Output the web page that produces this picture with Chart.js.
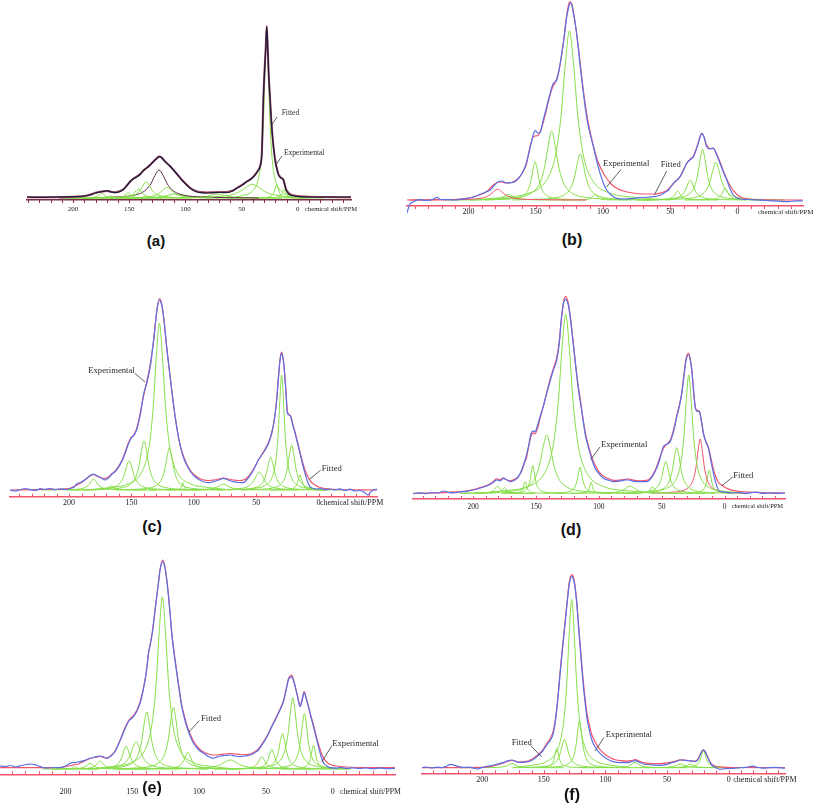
<!DOCTYPE html>
<html><head><meta charset="utf-8">
<script src="https://cdn.jsdelivr.net/npm/chart.js@4.4.1/dist/chart.umd.min.js"></script>
<style>
html,body{margin:0;padding:0;background:#fff}
body{width:813px;height:806px;position:relative;overflow:hidden}
canvas{position:absolute}
.plab{position:absolute;font-family:"Liberation Sans",Arial,sans-serif;font-weight:bold;transform:translate(-50%,-50%);color:#111;white-space:nowrap}
</style></head><body>
<script>
// ---------- tick labels ----------
const majorTicks = [200, 150, 100, 50, 0];
const tickLabels = ['200', '150', '100', '50', '0'];
const axisTitle = 'chemical shift/PPM';
const panelNames = ['(a)', '(b)', '(c)', '(d)', '(e)', '(f)'];
const lorentzProfile = [[0,1],[0.5,0.8],[1,0.5],[1.5,0.31],[2,0.2],[3,0.1],[5,0.038],[8,0.015],[12,0]];

// ---------- panel (a) ----------
const aRange = [241, -47.3];
const aExperimental = [[241,1],[230,0.7],[215,1],[200,1.3],[190,2],[185,3],[180,5],[176,6],[172,6.8],[170,7.3],[166,6],[162.6,5.3],[158,6.5],[155,8.7],[152,12.5],[149,17],[146,19.5],[143,21.3],[140,24],[137.5,27.3],[133,31.3],[128.5,36.3],[125,40],[123.5,41.3],[121,40],[118.1,36.3],[114,32],[110.8,28],[107,23],[103.3,18],[99,13],[95.9,9.7],[91,6.5],[87,5.3],[80,5],[75.2,5.3],[70,5.5],[63.3,5.3],[58,7],[54.4,9.7],[50,12.5],[45.5,16.3],[41,19.5],[38,23],[35.5,27],[33.6,31.3],[32,45],[30.7,98],[29.5,130],[28.6,148],[27.7,171.3],[26.8,150],[26,125],[24.7,98],[23.5,75],[22.3,58],[20.3,38],[18.5,28],[17.3,23],[15,20],[12.9,18],[11.5,12],[10.5,8],[8.5,4.5],[6.9,3],[3,2],[-2,1.3],[-10,1],[-25,1],[-47.3,1]];
const aFitted = [[241,0.7],[220,0.8],[200,1.2],[190,2],[185,3.2],[180,5.2],[176,6.2],[172,6.8],[170,7],[166,6.2],[162.6,5.8],[158,7],[155,9],[152,12.8],[149,16.5],[146,19.5],[143,21.8],[140,24.3],[137.5,27.5],[133,31.5],[128.5,36.5],[125,40.3],[123.5,41.5],[121,40.3],[118.1,36.5],[114,32.3],[110.8,28.3],[107,23.3],[103.3,18.3],[99,13.5],[95.9,10.2],[91,7],[87,6],[80,5.5],[75.2,5.8],[70,6],[63.3,6],[58,7.5],[54.4,10],[50,12.8],[45.5,16.5],[41,19.8],[38,23.5],[35.5,27.5],[33.6,32],[32,46],[30.7,99],[29.5,131],[28.6,150],[27.7,172],[26.8,151],[26,126],[24.7,99],[23.5,76],[22.3,59],[20.3,39],[18.5,29],[17.3,24],[15,20.5],[12.9,18.5],[11.5,13],[10.5,9],[8.5,5.5],[6.9,4],[3,2.5],[-2,1.7],[-10,1.2],[-25,1],[-47.3,0.8]];
// [centre ppm, height, half width]
const aPeaks = [[174.5,4.7,3],[167,2,3],[151,5.7,2.5],[142,9,4],[135,16.3,5],[123.5,28,7.4],[116.6,10.7,6],[110,4,8],[72,4,8],[40.5,13.7,10.5],[27.7,168,2.65],[18.8,13.7,2],[12.3,8.7,1.8]];

// ---------- panel (b) ----------
const bRange = [245.8, -48.7];
const bExperimental = [[245.8,-13],[244,-5],[241,-1.7],[236,0.3],[231,-0.5],[226,1],[223.7,2.7],[221,0.5],[215,0.3],[210,0],[205,0.8],[201,1.7],[196,3],[191.5,5.7],[188,7.5],[184,10],[180,16],[177.5,18.5],[175,19],[172,17],[169,17.3],[166,18],[164,20],[161,25],[158,33],[155.5,45],[153.5,56.7],[151.5,67],[150.5,69.3],[148.5,67],[146.9,67.3],[144.5,80],[141.9,93.3],[139.5,106],[137,116.7],[134.5,120],[132.5,132],[130.7,146.7],[129,162],[127,183.3],[125.5,193],[124.5,197.3],[123.2,195],[122,186.7],[120,170],[118.3,150],[116.5,128],[114.6,106.7],[112.8,88],[110.9,73.3],[107.2,53.3],[104.5,38],[102.2,26.7],[99.5,16],[97.3,10],[94,5],[89.8,1.7],[84,1],[77.4,1.7],[70,2.5],[62.5,3.3],[58,4.5],[55,6.7],[51,10.5],[47.7,16.7],[45,20],[42.7,23.3],[40,30],[37.8,36.7],[35,40.5],[32.8,43.3],[30,53],[28,62],[26.6,66.7],[25,63],[22.9,53.3],[20.5,51],[17.9,51.7],[15.5,45],[13,36.7],[10.5,28],[8,20],[5.5,11],[3,5],[0.5,2],[-2,1],[-8,0.5],[-15,0],[-22,-0.5],[-30,-1.2],[-38,-1.7],[-44,-0.8],[-48.7,-1]];
const bFitted = [[245.8,0],[220,0.3],[200,2],[192,5],[186,9],[182,14.5],[179,17.5],[176,18],[172,17],[168,17.5],[164,20.5],[160,27],[157,36],[154.5,52],[152.5,62],[150.5,64],[148.5,64.5],[146,71],[143,85],[140,102],[137.5,113],[135,119],[133,128],[131,143],[129,163],[127,185],[125.5,196],[124.5,198.5],[123.3,196],[122,188],[120,170],[118,149],[116,125],[114,103],[112,85],[110,71],[107,53],[104,39],[101,30],[98,23],[94,16],[90,12],[85,9],[78,7],[70,6],[62,6],[56,7.5],[52,10],[48,16],[45,20],[42.5,24],[40,31],[37.5,37],[35,41],[32.8,44],[30,54],[28,63],[26.6,67],[25,63.5],[23,55],[20.5,51.5],[18,52],[15.5,46],[13,38],[10.5,29],[8,21],[5,13],[2,8],[0,5],[-3,2.5],[-8,1],[-20,0.2],[-48.7,0]];
const bPeaks = [[178.4,10.7,5.5],[170.5,5.7,4],[150.5,38.3,3.1],[138.2,69,5],[125,169,6.2],[117,46,4.2],[106,5.7,2],[44.6,9,2.5],[35.2,20,3.5],[26,50.7,3.6],[16.1,37.7,4.3],[9.2,11.7,2.5]];

// ---------- panel (c) ----------
const cRange = [247.3, -46.8];
const cExperimental = [[247.3,0],[243,-1],[239,0.5],[235,1.5],[231,0.3],[227,-0.5],[223,1.3],[219,0.7],[215,1.5],[211,0.3],[207,1.2],[203,0.5],[199,1.5],[196,3],[193.8,6],[190,8],[185.8,11.7],[182.5,15],[180.4,16],[178,14.5],[175,12.7],[171,10],[168.5,12],[165.8,15.7],[163,18.5],[160.4,22.7],[157.5,29],[155,36.7],[153,44],[151,50],[149.5,53],[148.4,54],[146.5,58],[144.4,66.7],[142.5,78],[140.4,95],[137.7,106.7],[134.5,126.7],[131.9,153.3],[130.5,170],[129.2,183.3],[127.6,190],[126.4,188],[125.2,181.7],[123.5,165],[121.8,143.3],[119.8,122],[117.7,100],[115.7,80],[113.7,63.3],[111.7,49],[109.7,38.3],[107.7,30.5],[105.7,25],[103,19],[100.4,15],[96,10.5],[92.3,8.3],[88,7.3],[84.3,8.3],[80,10],[76.3,11.7],[72.5,10],[68.3,8.3],[64,7.5],[60.3,7.3],[57,11],[53.6,16.7],[51,23],[48.3,30],[45.5,35],[42.9,40],[40,47],[37.6,56.7],[35.5,70],[33.6,90],[32.2,112],[30.9,130],[29.6,136.7],[28.6,132],[27.7,123.3],[26.3,100],[25,76.7],[23.7,75],[22.4,73.3],[20.5,64],[18.9,56.7],[16.9,47],[14.9,36.7],[12.9,26],[10.9,16.7],[8.9,8.5],[6.9,3.3],[4,1.5],[1.5,0.7],[-2,1.5],[-5,0.3],[-9,1],[-13,0],[-17,1.2],[-21,-0.5],[-25,0.8],[-29,-1],[-33,-0.5],[-37,-2.5],[-39.5,-5],[-42,-1.5],[-46.8,1]];
const cFitted = [[247.3,0],[220,0.5],[200,1.5],[195,4],[190,7.5],[185.8,11.5],[182.5,14.5],[180.4,15.5],[178,14],[175,12.5],[171,11.5],[168,13.5],[165.8,16],[163,19],[160.4,23.5],[157.5,30],[155,38],[152.5,47],[150.5,52],[148.5,54.5],[146.5,59],[144.4,68],[142.5,80],[140.4,93],[138,107],[135,125],[132,152],[130.5,170],[129,184],[127.6,191.5],[126.3,189],[125,181],[123.5,165],[121.8,144],[119.8,122],[117.7,100],[115.7,80],[113.7,63],[111.7,49],[109.7,39],[107.7,32],[105.7,26],[103,20],[100.4,16],[96,12],[92,10],[88,9.5],[84,10],[80,11],[76.3,12],[72.5,11],[68.3,10],[64,9.5],[60,10],[57,12.5],[53.6,18],[51,23.5],[48.3,30],[45.5,35.5],[42.9,41],[40,48],[37.6,57],[35.5,70],[33.6,90],[32.2,112],[30.9,131],[29.6,138],[28.6,133],[27.7,124],[26.3,101],[25,79],[23.7,75.5],[22.4,74],[20.5,65],[18.9,58],[16.9,48],[14.9,38],[12.9,28],[10.9,20],[8.5,13],[6,8],[3,5],[0,3],[-5,1.5],[-15,0.5],[-46.8,0]];
const cPeaks = [[180.4,11,3.5],[165.8,4,3],[151.9,29.3,4],[139.9,49.3,3.9],[127.6,166.7,4.9],[119.6,42.3,3.6],[108.9,7.3,1],[76.3,6,5],[47.5,18,4.5],[38.4,32.7,3.5],[29.6,115,2.7],[21.6,45,3.3],[14.9,15,2]];

// ---------- panel (d) ----------
const dRange = [247.9, -48.1];
const dExperimental = [[247.9,-0.7],[243,0.5],[238,-0.3],[233,0.8],[228,0.3],[223.7,2.3],[220,1],[215,0.5],[210,1.5],[205,2],[199.8,3.3],[195,5],[189.2,7.3],[185,10],[181.3,13.3],[178.5,12.5],[176,15],[173.5,13.5],[170.7,11.7],[167,13],[164,16.7],[161.5,23],[158.7,33.3],[156,47],[153.9,60],[152,62.5],[150.7,61.7],[148.8,68],[146.8,76.7],[144,88],[141.5,100],[138.8,112],[136.2,123.3],[133.5,133.3],[131.5,150],[130.2,170],[128.2,190],[126.4,194],[124.3,188.3],[123,178],[121.6,163.3],[119.8,143],[118.1,123.3],[116.5,106],[115,93.3],[113,77],[111,60],[109,49],[107,40],[105,31.5],[103,25],[99.5,19],[96.4,15],[92,13],[88.4,11.7],[82,12.5],[79,13.5],[76.4,13.3],[72,12],[67.2,11.7],[61.9,11.7],[58.5,15],[55.2,21.7],[52,32],[48.6,46.7],[46,49],[43.3,51.7],[40.5,62],[38,76.7],[35.8,88],[34,100],[32.2,118],[30.6,133.3],[28.5,138.3],[27.2,133],[26.1,123.3],[24.8,105],[23.4,86.7],[21.7,82],[20,81.7],[18.5,73],[16.8,60],[14.8,51],[12.8,45],[10.8,32],[8.8,20],[6.8,10],[4.8,3.3],[2,1.5],[-1.8,1],[-6,0.3],[-11,0.8],[-16,0],[-21,0.5],[-25,1.2],[-30,0],[-36,0.5],[-42,0],[-48.1,0.3]];
const dFitted = [[247.9,0],[220,1],[205,2.5],[199.8,3.8],[195,5.5],[189,8],[185,10.5],[181.3,14.5],[178.5,13.5],[176,15.5],[173.5,13.5],[170.7,12.5],[167,14],[164,17],[161.5,22],[159,31],[157.5,36],[156,46],[154,57],[152,60.5],[150.7,59.5],[148.8,65],[146.8,75],[144,88],[141.5,101],[138.8,114],[136.2,125],[133.5,136],[131.5,152],[130,172],[128.2,191],[126.4,197],[124.3,190],[123,180],[121.6,165],[119.8,144],[118.1,124],[116.5,108],[115,96],[113,78],[111,62],[109,51],[107,42],[105,34],[103,28],[99.5,21],[96.4,17],[92,14.5],[88.4,13],[82,13.5],[79,14],[76.4,14.3],[72,13],[67.2,12.5],[61.9,13],[58.5,16],[55.2,23],[52,34],[48.6,45],[46,49],[43.3,53],[40.5,64],[38,78],[35.8,89],[34,101],[32.2,120],[30.6,135],[28.5,140],[27.2,134],[26.1,124],[24.8,105],[23.4,87],[21.7,83],[20,82],[18.5,73],[16.8,60],[14.8,52],[12.8,46],[10.8,35],[8.8,24],[6.8,16],[4.8,11],[2,8],[-1.8,5],[-6,3],[-12,1.8],[-20,1.2],[-30,0.7],[-48.1,0.3]];
const dPeaks = [[180.7,7.3,2.5],[175.2,5.7,2],[158.7,11.7,1.5],[152.6,27.7,2.1],[141.5,58.3,5.5],[126.4,179,6],[115,26,2.3],[106.2,11,1.3],[75.1,7.3,5],[57.3,6.7,2],[46.8,31.7,3.3],[38,45.7,3.6],[28.5,118.3,3.7],[19.4,54.3,3.2],[12.2,23.3,2]];

// ---------- panel (e) ----------
const eRange = [249, -46.6];
const eExperimental = [[249,3],[245,2.5],[241,3.5],[237,2],[233,3.5],[229,4.5],[226,5],[223,4.3],[220,3],[217,1.5],[213,1],[209,1.5],[204,1.3],[200,3],[196.5,5.7],[193,6.5],[189,7.3],[185,9],[181.6,10.7],[178,12],[174,13],[171.5,12],[169,10.7],[166,13],[162.9,17.3],[160.5,24],[157.9,32.3],[155.5,40],[152.9,47.3],[151,50],[149.1,52.3],[146.5,58],[144.2,65.7],[142.3,76],[140.4,89],[139,102],[137.9,115.7],[136.3,126],[134.7,139],[133.2,156],[131.7,172.3],[130.4,186],[129.2,199],[127.2,207.3],[125.5,200.7],[124.3,190],[123,174],[121.7,155],[120.5,135.7],[118.7,115],[116.7,95.7],[114.8,78],[113,62.3],[111,51],[109.2,42.3],[106.7,33],[104.2,25.7],[100.5,19.5],[96.7,15.7],[93,12.5],[89.2,10.7],[86.7,12],[84.3,13],[80.5,13.5],[76.8,14],[73,13],[69.3,12.3],[65.5,13],[61.8,14],[58.7,16],[55.6,19],[53,24],[50.6,29],[48,35.5],[45.6,42.3],[43,49],[40.6,55.7],[38.7,61],[36.9,67.3],[35,78],[33.2,89],[31.8,91.5],[30.6,92.3],[29.3,88],[28.1,82.3],[26.3,72],[24.4,62.3],[23,68],[21.4,76.3],[19.8,70],[18.2,62.3],[16.3,52],[14.4,42.3],[12.5,32],[10.7,22.3],[8.8,13],[6.9,6.3],[4.5,3],[1.9,1.3],[-2,0.8],[-6,1.5],[-10,0.7],[-15,1.2],[-20,0.5],[-25,1],[-30,0.3],[-36,0.8],[-41,0.3],[-46.6,0.7]];
const eFitted = [[249,1.3],[225,1.3],[205,1.5],[198,3],[194,4],[192.8,5],[191,4.5],[189,6],[185,8.5],[181.6,10.5],[178,11.5],[174,12.5],[171.5,11.5],[169,11],[166,13.5],[162.9,18],[160.5,24.5],[157.9,33],[155.5,41],[152.9,48],[151,51],[149.1,53.5],[146.5,59],[144.2,67],[142.3,77],[140.4,90],[139,103],[137.9,116],[136.3,127],[134.7,140],[133.2,157],[131.7,173],[130.4,187],[129.2,200],[127.2,209],[125.5,202],[124.3,191],[123,175],[121.7,156],[120.5,137],[118.7,117],[116.7,97],[114.8,80],[113,64],[111,53],[109.2,44],[106.7,35],[104.2,28],[100.5,21],[96.7,17],[93,15],[89.2,14],[86.7,14],[84.3,14.5],[80.5,15],[76.8,15.5],[73,15],[69.3,14.5],[65.5,14.5],[61.8,15],[58.7,17],[55.6,20],[53,25],[50.6,30],[48,36],[45.6,43],[43,50],[40.6,56.5],[38.7,62],[36.9,68],[35,79],[33.2,90],[31.8,93],[30.6,94],[29.3,89],[28.1,83],[26.3,73],[24.4,64],[23,69],[21.4,77.5],[19.8,71],[18.2,63],[16.3,53],[14.4,44],[12.5,34],[10.7,25],[8.8,17],[6.9,11],[4.5,7],[1.9,4.5],[-3,3],[-10,2],[-20,1.5],[-46.6,1.3]];
const ePeaks = [[193,2.5,1.5],[181.6,5.7,3],[174,8,3],[154.6,23,3.3],[147.2,27.3,4.5],[139.2,57.3,3.7],[127.5,172.3,4.6],[119.2,61.7,3.7],[108.5,17,3],[76.8,9,7],[53.1,12.3,3],[45.6,19.7,2.7],[37.6,35.7,3],[29.9,71.3,3.5],[21.2,55.7,2.9],[14.4,24,2]];

// ---------- panel (f) ----------
const fRange = [248.9, -45.7];
const fExperimental = [[248.9,0],[245,0.7],[241,-0.3],[237,0.5],[233,0],[229,1.5],[226,3.3],[223,2.5],[219,1],[215,0.3],[211,0.5],[207,-0.5],[204.5,-1.3],[200,0.3],[195,1.5],[191,2.7],[186,4],[182.8,5.3],[179,7],[176,7.7],[173,6.5],[170.6,5.3],[166,5.5],[162.5,6],[159,8],[155.8,11],[152,15],[147.7,22.7],[144.5,28],[142.3,34.3],[140.5,48],[139,64.3],[137.8,80],[136.8,94.3],[135.5,111],[134.1,127.7],[132.7,145],[131.4,161],[129.3,184.3],[127.4,191],[125.5,186],[124.4,177],[123.3,164.3],[122,143],[120.6,121],[119.2,100],[117.9,81],[116.5,65],[115.2,51],[113,37],[111.1,27.7],[108,20],[104.4,14.3],[99,9],[93.6,6],[88,5],[82.7,5],[79,6],[76,7],[72.5,5.5],[69.2,3.7],[62,2.8],[55.7,2.3],[51,3],[47.6,4.3],[43,6],[39.4,7.7],[36,7.5],[32.7,7],[29.5,6.5],[27.3,6],[25,8],[23.2,12.7],[21.8,16],[20.5,17.7],[19.2,16],[17.8,12.7],[15.8,7],[13.7,2.7],[10.5,0],[7,-1.7],[3,-1],[-3.8,-0.7],[-10,0],[-15,0.5],[-19.5,1.5],[-23,0.5],[-28,-0.5],[-33,0],[-38,0.3],[-45.7,-0.5]];
const fFitted = [[248.9,0],[200,0.3],[192,1.5],[186,3.5],[182,5],[179,6.5],[176,7.3],[173,6.5],[170.5,5.5],[166,6],[162.5,7],[159,9],[155.8,12],[152,16],[147.7,24],[144.5,30],[142.3,37],[140.5,50],[139,66],[137.8,82],[136.8,96],[135.5,113],[134.1,130],[132.7,147],[131.4,163],[129.3,186],[127.4,193],[125.5,188],[124.4,179],[123.3,166],[122,146],[120.6,124],[119.2,103],[117.9,85],[116.5,69],[115.2,56],[113,42],[111.1,33],[108,25],[104.4,18],[100,13],[96,10],[92,8],[88,7],[82.7,6.5],[79,7],[76,8],[72.5,6.5],[69.2,5],[62,4],[55.7,4],[51,4.5],[47.6,5.3],[43,6.5],[39.4,7.8],[36,7.5],[32.7,7.2],[29.5,6.5],[27.3,6.5],[25,8.5],[23.2,13],[21.8,16.5],[20.5,18],[19.2,16.5],[17.8,13],[15.8,7.5],[13.7,3.5],[10.5,1.5],[5,0.5],[-5,0.2],[-45.7,0]];
const fPeaks = [[176,4.3,3.5],[139.5,19.3,2],[133.3,28.3,3.5],[127.4,168.3,4],[121.1,47,2.7],[76,5.3,3.5],[39.4,3.7,4],[31.3,3.7,3],[20.5,17,2.5]];

// ---------- layout & styles (page pixels) ----------
const STYLE_COLOR = {
  blue:'#5a70e4', red:'#f2546c', green:'#86de48', axisRed:'#f2546c',
  darkExp:'#1c1a36', darkFit:'#9c4666', darkPeak:'#5a3048', darkAxis:'#7a3048'
};
const layout = [
  {key:'a', range:aRange, exp:aExperimental, fit:aFitted, peaks:aPeaks, dark:true, special:5,
   box:[0,20,406,205], plot:[27,351], baseY:198, axisY:200, labelY:209, fs:7, tfs:6.6, afs:7.5, titleX:305, tickDir:1,
   name:[156,240,15],
   ann:[{t:'Fitted',x:281.7,y:113.3,l:[277,117,271,126]},{t:'Experimental',x:284,y:153.3,l:[282,156,275,166]}]},
  {key:'b', range:bRange, exp:bExperimental, fit:bFitted, peaks:bPeaks, dark:false, special:0,
   box:[406,0,407,225], plot:[407,803], baseY:200, axisY:206, labelY:212, fs:8, tfs:7, afs:8.6, titleX:758, tickDir:1,
   name:[572,240,16],
   ann:[{t:'Experimental',x:603,y:163.3,l:[621,169.5,606.5,187]},{t:'Fitted',x:660.7,y:164.3,l:[666.7,171,654.3,195]}]},
  {key:'c', range:cRange, exp:cExperimental, fit:cFitted, peaks:cPeaks, dark:false, special:-1,
   box:[0,290,406,225], plot:[10,377], baseY:490, axisY:496.7, labelY:503.3, fs:8, tfs:8, afs:8.6, titleX:320, tickDir:-1,
   name:[152,527,16],
   ann:[{t:'Experimental',x:88.3,y:371,l:[135,373.3,145,382]},{t:'Fitted',x:321.7,y:468.3,l:[320.7,470,309.3,479.5]}]},
  {key:'d', range:dRange, exp:dExperimental, fit:dFitted, peaks:dPeaks, dark:false, special:13,
   box:[406,290,407,225], plot:[413,785], baseY:493.3, axisY:499, labelY:506.7, fs:7.5, tfs:6.5, afs:8.6, titleX:731.7, tickDir:-1,
   name:[571,530,16],
   ann:[{t:'Experimental',x:601,y:445,l:[600,447,590.7,459.5]},{t:'Fitted',x:733.3,y:476,l:[732.7,477,721.7,486]}]},
  {key:'e', range:eRange, exp:eExperimental, fit:eFitted, peaks:ePeaks, dark:false, special:-1,
   box:[0,550,406,256], plot:[0,395], baseY:769, axisY:774.3, labelY:792.3, fs:8, tfs:7.7, afs:8.6, titleX:340, tickDir:-1,
   name:[152,788,16],
   ann:[{t:'Fitted',x:201,y:718.3,l:[199.3,720.5,189,732]},{t:'Experimental',x:332.3,y:743.3,l:[331.7,746,321.7,762]}]},
  {key:'f', range:fRange, exp:fExperimental, fit:fFitted, peaks:fPeaks, dark:false, special:-1,
   box:[406,560,407,246], plot:[422,785], baseY:767.7, axisY:773.3, labelY:780, fs:8, tfs:8, afs:8.6, titleX:733.3, tickDir:-1,
   name:[572,795,16],
   ann:[{t:'Fitted',x:511.7,y:742.7,l:[530.7,745.5,541.7,757]},{t:'Experimental',x:605.7,y:735,l:[604,737.5,595,751]}]}
];

const SERIF = '"Liberation Serif","Times New Roman",serif';
const toXY = arr => arr.map(p => ({x:p[0], y:p[1]}));
function peakToPoints(pk){
  const [c,h,w] = pk, pts = [];
  for (let i = lorentzProfile.length-1; i > 0; i--) pts.push({x:c + lorentzProfile[i][0]*w, y:h*lorentzProfile[i][1]});
  for (const [d,f] of lorentzProfile) pts.push({x:c - d*w, y:h*f});
  return pts;
}
function makeDecor(L){
  return {
    id:'decor_'+L.key,
    afterDraw(chart){
      const ctx = chart.ctx, xs = chart.scales.x, area = chart.chartArea;
      const ox = L.box[0], oy = L.box[1];
      const axisCol = L.dark ? STYLE_COLOR.darkAxis : STYLE_COLOR.axisRed;
      ctx.save();
      ctx.strokeStyle = axisCol; ctx.lineWidth = 1;
      for (let v = Math.ceil(xs.min/10)*10; v <= xs.max; v += 10){
        const px = Math.round(xs.getPixelForValue(v)) + 0.5;
        ctx.beginPath(); ctx.moveTo(px, area.bottom); ctx.lineTo(px, area.bottom + L.tickDir*3); ctx.stroke();
      }
      ctx.fillStyle = '#222'; ctx.textBaseline = 'middle'; ctx.textAlign = 'left';
      ctx.font = L.tfs + 'px ' + SERIF;
      ctx.fillText(axisTitle, L.titleX - ox, L.labelY - oy);
      ctx.font = L.afs + 'px ' + SERIF;
      for (const a of L.ann){
        ctx.fillStyle = '#2a2a2a';
        ctx.fillText(a.t, a.x - ox, a.y - oy);
        ctx.strokeStyle = '#3a3a3a'; ctx.lineWidth = 0.8;
        ctx.beginPath(); ctx.moveTo(a.l[0]-ox, a.l[1]-oy); ctx.lineTo(a.l[2]-ox, a.l[3]-oy); ctx.stroke();
      }
      ctx.restore();
    }
  };
}

layout.forEach((L, idx) => {
  const [left, top, W, H] = L.box;
  const cv = document.createElement('canvas');
  cv.width = W; cv.height = H;
  cv.style.left = left + 'px'; cv.style.top = top + 'px';
  cv.style.width = W + 'px'; cv.style.height = H + 'px';
  document.body.appendChild(cv);

  const expCol = L.dark ? STYLE_COLOR.darkExp : STYLE_COLOR.blue;
  const fitCol = L.dark ? STYLE_COLOR.darkFit : STYLE_COLOR.red;
  const datasets = [
    {data: toXY(L.exp), borderColor: expCol, borderWidth: 1.2},
    {data: toXY(L.fit), borderColor: fitCol, borderWidth: L.dark ? 2 : 1.2}
  ];
  L.peaks.forEach((pk, i) => {
    let col = STYLE_COLOR.green;
    if (i === L.special) col = L.dark ? STYLE_COLOR.darkPeak : STYLE_COLOR.red;
    datasets.push({data: peakToPoints(pk), borderColor: col, borderWidth: 1});
  });
  datasets.forEach(d => {
    d.fill = false; d.pointRadius = 0; d.cubicInterpolationMode = 'monotone';
    d.clip = {left: 0, right: 0, top: false, bottom: false};
  });

  const chartH = L.axisY - top;
  const scaleH = H - chartH;
  new Chart(cv.getContext('2d'), {
    type: 'line',
    data: {datasets},
    options: {
      responsive: false, animation: false, events: [],
      layout: {padding: {left: L.plot[0] - left, right: left + W - L.plot[1], top: 0, bottom: 0}},
      plugins: {legend: {display: false}, tooltip: {enabled: false}},
      scales: {
        x: {
          type: 'linear', reverse: true, min: L.range[1], max: L.range[0],
          afterBuildTicks: s => { s.ticks = majorTicks.map(v => ({value: v})); },
          afterFit: s => { s.height = scaleH; },
          ticks: {
            autoSkip: false, maxRotation: 0, minRotation: 0, color: '#222',
            padding: L.labelY - L.axisY - 0.6*L.fs,
            font: {family: SERIF, size: L.fs},
            callback: v => { const k = majorTicks.indexOf(v); return k >= 0 ? tickLabels[k] : ''; }
          },
          grid: {display: true, drawOnChartArea: false, drawTicks: false},
          border: {display: true, color: L.dark ? STYLE_COLOR.darkAxis : STYLE_COLOR.axisRed, width: 1.5}
        },
        y: {display: false, min: -(L.axisY - L.baseY), max: L.baseY - top}
      }
    },
    plugins: [makeDecor(L)]
  });

  const lab = document.createElement('div');
  lab.className = 'plab';
  lab.textContent = panelNames[idx];
  lab.style.left = L.name[0] + 'px'; lab.style.top = L.name[1] + 'px';
  lab.style.fontSize = L.name[2] + 'px';
  document.body.appendChild(lab);
});
</script>
</body></html>
